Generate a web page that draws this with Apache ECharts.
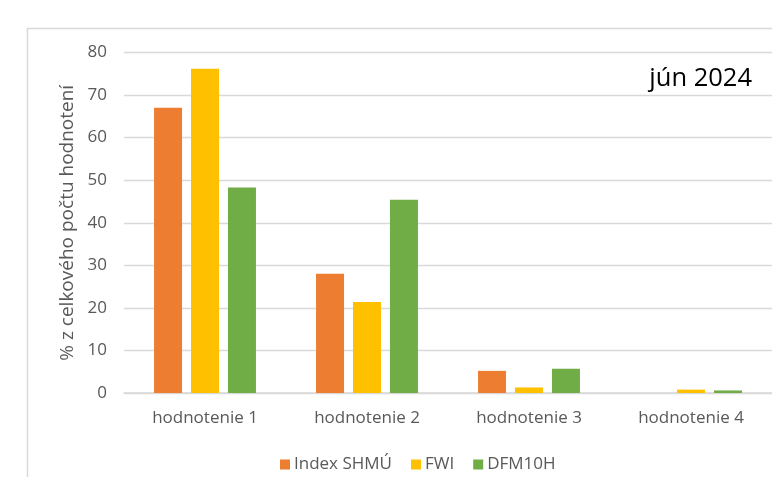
<!DOCTYPE html>
<html>
<head>
<meta charset="utf-8">
<script src="https://cdn.jsdelivr.net/npm/echarts@6/dist/echarts.min.js"></script>
<style>
  html, body { margin: 0; padding: 0; background: #fff; }
  #chart { width: 772px; height: 477px; }
</style>
</head>
<body>
<div id="chart"></div>
<script>
// Categories and shares (% of all ratings) for June 2024
const categories = ['hodnotenie 1', 'hodnotenie 2', 'hodnotenie 3', 'hodnotenie 4'];
const indexShmu = [67.0, 28.0, 5.2, 0];
const fwi = [76.2, 21.4, 1.3, 0.8];
const dfm10h = [48.3, 45.4, 5.7, 0.6];
const seriesNames = ['Index SHMÚ', 'FWI', 'DFM10H'];
const periodLabel = 'jún 2024';
const yAxisName = '% z celkového počtu hodnotení';

const FONT = '"Open Sans", "Noto Sans", sans-serif';
const TEXT = '#595959';
const GRID = '#d9d9d9';

const chart = echarts.init(document.getElementById('chart'), null, { renderer: 'canvas' });

function barSeries(name, data, color) {
  return {
    name: name,
    type: 'bar',
    data: data,
    barWidth: 28,
    barGap: '32%',
    itemStyle: { color: color },
    emphasis: { disabled: true }
  };
}

chart.setOption({
  animation: false,
  textStyle: { fontFamily: FONT },
  graphic: [{
    type: 'rect',
    shape: { x: 27.5, y: 28.5, width: 900, height: 600 },
    style: { fill: 'none', stroke: GRID, lineWidth: 1.5 },
    silent: true,
    z: -1
  }],
  title: {
    text: periodLabel,
    right: 15,
    top: 61,
    textStyle: { fontFamily: FONT, fontSize: 25.5, fontWeight: 'normal', color: '#000' }
  },
  legend: {
    data: seriesNames,
    left: 275,
    top: 451,
    icon: 'rect',
    itemWidth: 10,
    itemHeight: 10,
    itemGap: 19,
    textStyle: { fontFamily: FONT, fontSize: 17, color: TEXT, padding: [0, 0, 0, -1] }
  },
  grid: { left: 124, right: -5, top: 52.5, bottom: 84, containLabel: false },
  xAxis: {
    type: 'category',
    data: categories,
    axisLine: { lineStyle: { color: GRID, width: 1.5 } },
    axisTick: { show: false },
    axisLabel: { fontFamily: FONT, fontSize: 17, color: TEXT, margin: 17 }
  },
  yAxis: {
    type: 'value',
    min: 0,
    max: 80,
    interval: 10,
    name: yAxisName,
    nameLocation: 'middle',
    nameGap: 46,
    nameTextStyle: { fontFamily: FONT, fontSize: 19, color: TEXT },
    axisLine: { show: false },
    axisTick: { show: false },
    splitLine: { lineStyle: { color: GRID, width: 1.3 } },
    axisLabel: { fontFamily: FONT, fontSize: 17, color: TEXT, margin: 17 }
  },
  series: [
    barSeries(seriesNames[0], indexShmu, '#ed7d31'),
    barSeries(seriesNames[1], fwi, '#ffc000'),
    barSeries(seriesNames[2], dfm10h, '#70ad47')
  ]
});
</script>
</body>
</html>
